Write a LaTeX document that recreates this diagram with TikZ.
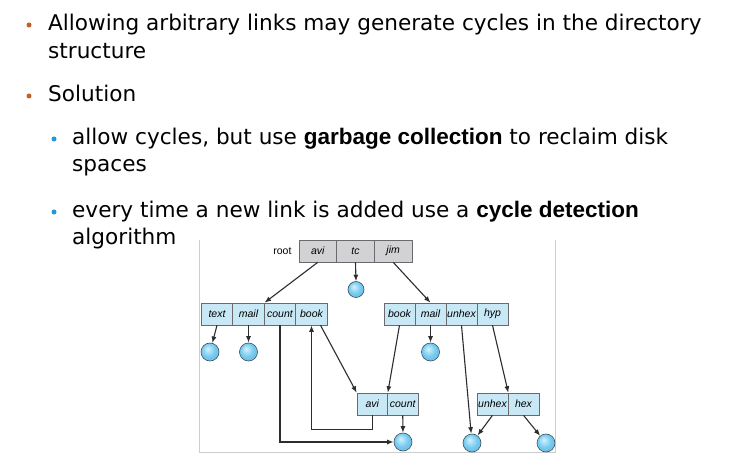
\documentclass[tikz,border=0pt]{standalone}
\usepackage{fontspec}
\setmainfont{DejaVu Sans}
\newfontfamily\arialf{Liberation Sans}
\usetikzlibrary{arrows.meta,calc}
\definecolor{cellblue}{RGB}{200,232,246}
\definecolor{cellgray}{RGB}{210,210,213}
\definecolor{cellline}{RGB}{105,105,110}
\definecolor{bulorange}{RGB}{195,95,40}
\definecolor{bulblue}{RGB}{40,150,220}
\definecolor{ballc}{RGB}{118,203,240}
\definecolor{ballhi}{RGB}{215,242,253}
\definecolor{ballline}{RGB}{60,80,95}
\definecolor{arrowc}{RGB}{45,45,45}
\definecolor{framegray}{RGB}{205,205,205}
\pgfdeclareradialshading{myball}{\pgfpoint{-7bp}{9bp}}{color(0bp)=(ballhi); color(18bp)=(ballc); color(30bp)=(ballc!92!black); color(50bp)=(ballc!92!black)}
\begin{document}
\begin{tikzpicture}[x=1pt,y=-1pt,
  txt/.style={anchor=base west, inner sep=0, font=\fontsize{21.6}{26}\selectfont},
  bul/.style={circle, fill=#1, inner sep=0, minimum size=5pt},
  cell/.style={draw=cellline, fill=cellblue, line width=0.6pt, minimum height=22pt, minimum width=31.5pt, inner sep=0, font=\arialf\itshape\fontsize{10.5}{11}\selectfont},
  gcell/.style={cell, fill=cellgray, minimum width=37.7pt},
  ball/.style={circle, draw=ballline, line width=0.6pt, shading=myball, minimum size=18pt, inner sep=0},
  arr/.style={-{Latex[length=6.5pt,width=5pt]}, draw=arrowc, line width=1.1pt},
  lbl/.style={font=\arialf\fontsize{10.5}{11}\selectfont, inner sep=0}]
\useasboundingbox (0,0) rectangle (729,457);
\fill[white] (0,0) rectangle (729,457);

% bullets and text
\node[bul=bulorange] (b1) at (29,25) {};
\node[txt] (t1) at (48,31) {Allowing arbitrary links may generate cycles in the directory};
\node[txt] (t2) at (48,59) {structure};
\node[bul=bulorange] (b2) at (29,96) {};
\node[txt] (t3) at (48,102) {Solution};
\node[bul=bulblue] (b3) at (54,139) {};
\node[txt] (t4) at (72,145) {allow cycles, but use {\arialf\bfseries\fontsize{22.5}{26}\selectfont garbage collection} to reclaim disk};
\node[txt] (t5) at (72,172) {spaces};
\node[bul=bulblue] (b4) at (54,212) {};
\node[txt] (t6) at (72,218) {every time a new link is added use a {\arialf\bfseries\fontsize{22.5}{26}\selectfont cycle detection}};
\node[txt] (t7) at (72,245) {algorithm};

% frame
\draw[framegray, line width=0.8pt] (199,240) -- (199,452) -- (555,452) -- (555,240);

% root row
\node[gcell] (ravi) at (317.8,251) {avi};
\node[gcell] (rtc) at (355.5,251) {tc};
\node[gcell] (rjim) at (393.2,251) {jim};
\node[lbl, anchor=east] (root) at ($(ravi.west)+(-7,0)$) {root};

% left row
\node[cell] (ltext) at (217,314) {text};
\node[cell] (lmail) at (248.5,314) {mail};
\node[cell] (lcount) at (280,314) {count};
\node[cell] (lbook) at (311.5,314) {book};

% right row
\node[cell, minimum width=31pt] (rbook) at (399.5,314) {book};
\node[cell, minimum width=31pt] (rmail) at (430.5,314) {mail};
\node[cell, minimum width=31pt] (runhex) at (461.5,314) {unhex};
\node[cell, minimum width=31pt] (rhyp) at (492.5,314) {hyp};

% bottom boxes
\node[cell, minimum width=30.5pt] (bavi) at (372.25,404) {avi};
\node[cell, minimum width=30.5pt] (bcount) at (402.75,404) {count};
\node[cell, minimum width=31pt] (bunhex) at (492.5,404) {unhex};
\node[cell, minimum width=31pt] (bhex) at (523.5,404) {hex};

% files
\node[ball, minimum size=16pt] (ctc) at (356,289.5) {};
\node[ball] (ctext) at (210,352) {};
\node[ball] (cmail) at (248.5,352) {};
\node[ball] (crmail) at (430.5,352) {};
\node[ball] (ccount) at (403,442) {};
\node[ball] (cunhex) at (472,443) {};
\node[ball] (chex) at (546,443) {};

% connectors
\draw[arr] (ravi.south) -- (lmail.north east);
\draw[arr] (rtc.south) -- (ctc.north);
\draw[arr] (rjim.south) -- (rmail.north);
\draw[arr] (ltext.south) -- (ctext);
\draw[arr] (lmail.south) -- (cmail.north);
\draw[arr] (lcount.south) |- (ccount.west);
\draw[arr] (bavi.south) -- ++(0,14) -| (lbook.south);
\draw[arr] ($(lbook.south)+(9,0)$) -- (bavi.north west);
\draw[arr] (rbook.south) -- (bavi.north east);
\draw[arr] (rmail.south) -- (crmail.north);
\draw[arr] (runhex.south) -- (cunhex);
\draw[arr] (rhyp.south) -- (bunhex.north east);
\draw[arr] (bunhex.south) -- (cunhex);
\draw[arr] (bhex.south) -- (chex);
\draw[arr] (bcount.south) -- (ccount.north);
\end{tikzpicture}
\end{document}
